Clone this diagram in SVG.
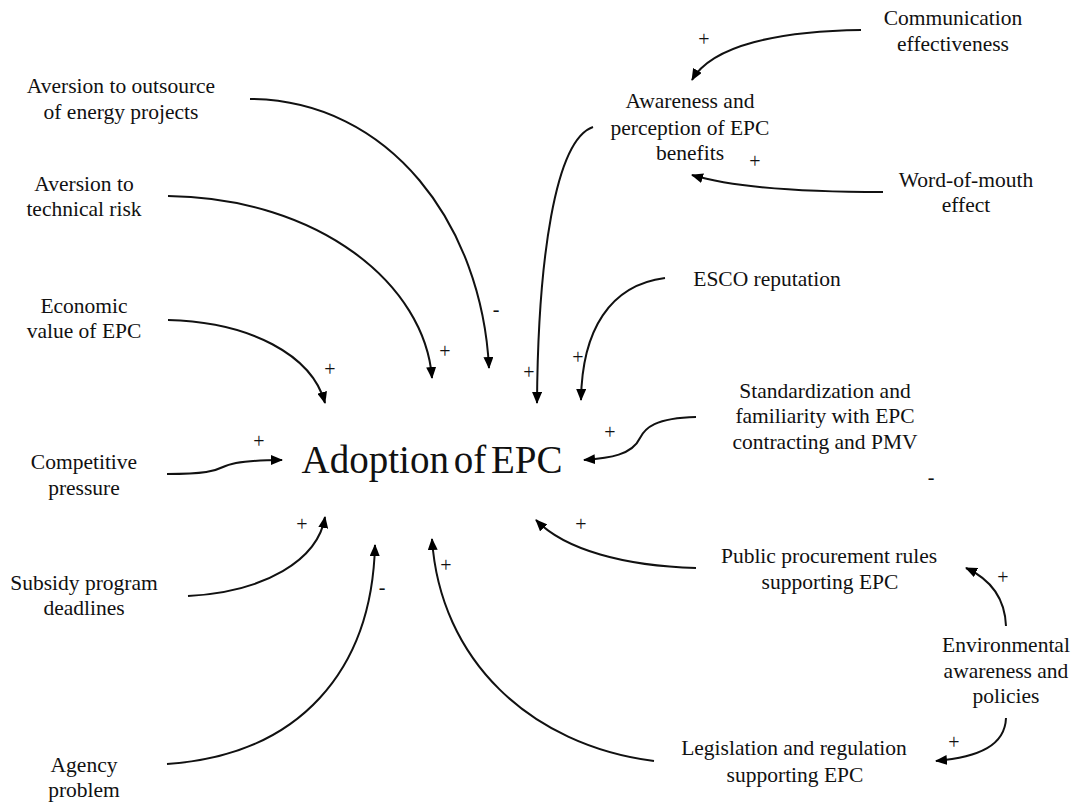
<svg xmlns="http://www.w3.org/2000/svg" width="1082" height="802" viewBox="0 0 1082 802">
  <defs>
    <marker id="arrow" viewBox="0 0 12 10" refX="11" refY="5" markerWidth="12" markerHeight="10" markerUnits="userSpaceOnUse" orient="auto">
      <path d="M0,0 L12,5 L0,10 Z" fill="#000"/>
    </marker>
  </defs>
  <style>
    .lbl { font-family: "Liberation Serif", "Times New Roman", serif; font-size: 21.5px; fill: #111; text-anchor: middle; }
    .main { font-family: "Liberation Serif", "Times New Roman", serif; font-size: 39px; fill: #111; text-anchor: middle; word-spacing: -5px; }
    .sign { font-family: "Liberation Serif", "Times New Roman", serif; font-size: 20px; fill: #111; text-anchor: middle; }
    .link { fill: none; stroke: #111; stroke-width: 2; marker-end: url(#arrow); }
  </style>
  <rect width="1082" height="802" fill="#fff"/>

  <!-- causal links -->
  <g id="connectors">
    <path class="link" d="M250,99 C390,100 482,225 489,368"/>
    <path class="link" d="M168,196 C320,198 425,285 432,378"/>
    <path class="link" d="M168,320 C250,322 312,355 325,403"/>
    <path class="link" d="M593,127 C555,140 538,260 537,403"/>
    <path class="link" d="M665,278 C610,285 582,330 581,400"/>
    <path class="link" d="M861,30 C780,31 712,45 692,80"/>
    <path class="link" d="M883,192 C800,192 735,188 692,175"/>
    <path class="link" d="M696,417 C655,418 645,428 640,438 C632,455 610,458 584,460"/>
    <path class="link" d="M167,474 C205,474 215,471 223,467 C233,462 250,460 282,460"/>
    <path class="link" d="M188,596 C265,592 318,560 325,517"/>
    <path class="link" d="M167,764 C300,755 372,670 375,545"/>
    <path class="link" d="M654,761 C530,745 440,660 432,539"/>
    <path class="link" d="M696,568 C625,566 565,550 536,520"/>
    <path class="link" d="M1006,626 C1005,600 992,580 966,568"/>
    <path class="link" d="M1006,718 C1005,745 980,757 936,761"/>
  </g>

  <!-- link polarities -->
  <g id="polarities">
    <text class="sign" x="496" y="316">-</text>
    <text class="sign" x="445" y="358">+</text>
    <text class="sign" x="330" y="376">+</text>
    <text class="sign" x="529" y="379">+</text>
    <text class="sign" x="578" y="364">+</text>
    <text class="sign" x="704" y="46">+</text>
    <text class="sign" x="755" y="168">+</text>
    <text class="sign" x="610" y="439">+</text>
    <text class="sign" x="259" y="448">+</text>
    <text class="sign" x="302" y="531">+</text>
    <text class="sign" x="382" y="594">-</text>
    <text class="sign" x="446" y="572">+</text>
    <text class="sign" x="581" y="531">+</text>
    <text class="sign" x="1003" y="584">+</text>
    <text class="sign" x="954" y="749">+</text>
    <text class="sign" x="931" y="484">-</text>
  </g>

  <!-- variables -->
  <g id="adoption"><text class="main" x="432" y="473">Adoption of EPC</text></g>
  <g id="aversion-outsource"><text class="lbl" x="121" y="93">Aversion to outsource</text><text class="lbl" x="121" y="119">of energy projects</text></g>
  <g id="aversion-risk"><text class="lbl" x="84" y="191">Aversion to</text><text class="lbl" x="84" y="216">technical risk</text></g>
  <g id="economic-value"><text class="lbl" x="84" y="313">Economic</text><text class="lbl" x="84" y="338">value of EPC</text></g>
  <g id="competitive-pressure"><text class="lbl" x="84" y="469">Competitive</text><text class="lbl" x="84" y="495">pressure</text></g>
  <g id="subsidy-deadlines"><text class="lbl" x="84" y="590">Subsidy program</text><text class="lbl" x="84" y="615">deadlines</text></g>
  <g id="agency-problem"><text class="lbl" x="84" y="772">Agency</text><text class="lbl" x="84" y="797">problem</text></g>
  <g id="communication"><text class="lbl" x="953" y="25">Communication</text><text class="lbl" x="953" y="51">effectiveness</text></g>
  <g id="awareness"><text class="lbl" x="690" y="108">Awareness and</text><text class="lbl" x="690" y="135">perception of EPC</text><text class="lbl" x="690" y="160">benefits</text></g>
  <g id="word-of-mouth"><text class="lbl" x="966" y="187">Word-of-mouth</text><text class="lbl" x="966" y="212">effect</text></g>
  <g id="esco-reputation"><text class="lbl" x="767" y="286">ESCO reputation</text></g>
  <g id="standardization"><text class="lbl" x="825" y="398">Standardization and</text><text class="lbl" x="825" y="423">familiarity with EPC</text><text class="lbl" x="825" y="449">contracting and PMV</text></g>
  <g id="public-procurement"><text class="lbl" x="829" y="563">Public procurement rules</text><text class="lbl" x="830" y="589">supporting EPC</text></g>
  <g id="environmental"><text class="lbl" x="1006" y="652">Environmental</text><text class="lbl" x="1006" y="678">awareness and</text><text class="lbl" x="1006" y="703">policies</text></g>
  <g id="legislation"><text class="lbl" x="794" y="755">Legislation and regulation</text><text class="lbl" x="795" y="782">supporting EPC</text></g>
</svg>
